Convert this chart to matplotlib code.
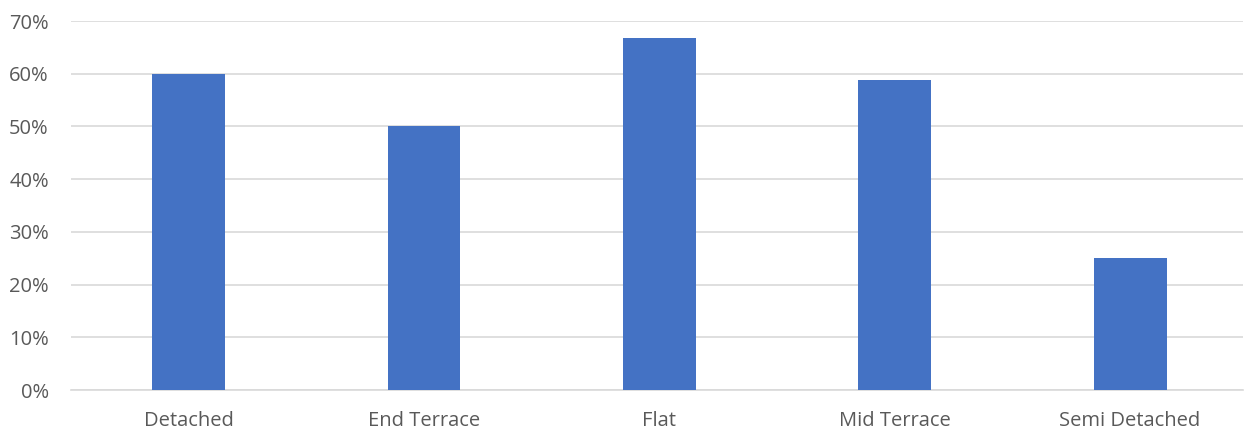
import matplotlib
matplotlib.use("Agg")
import matplotlib.pyplot as plt
from matplotlib.ticker import PercentFormatter

# share of each property type
CATEGORIES = ["Detached", "End Terrace", "Flat", "Mid Terrace", "Semi Detached"]
SHARE = [0.60, 0.50, 0.667, 0.588, 0.25]
Y_TICKS = [0.0, 0.1, 0.2, 0.3, 0.4, 0.5, 0.6, 0.7]

BAR_COLOR = "#4472C4"
TEXT_COLOR = "#595959"
GRID_COLOR = "#D9D9D9"

plt.rcParams["font.family"] = ["Open Sans", "DejaVu Sans"]

fig = plt.figure(figsize=(12.44, 4.32), dpi=100)
ax = fig.add_axes([71 / 1244, 1 - 390 / 432, 1172 / 1244, (390 - 21) / 432])

x = list(range(len(CATEGORIES)))
ax.bar(x, SHARE, width=0.31, color=BAR_COLOR, zorder=3)

ax.set_xlim(-0.5, 4.48)
ax.set_ylim(0, 0.7)
ax.set_yticks(Y_TICKS)
ax.yaxis.set_major_formatter(PercentFormatter(1.0, decimals=0))
ax.set_xticks(x)
ax.set_xticklabels(CATEGORIES)

ax.grid(axis="y", color=GRID_COLOR, linewidth=1.2, zorder=0)
for side in ["top", "right", "left"]:
    ax.spines[side].set_visible(False)
ax.spines["bottom"].set_color(GRID_COLOR)
ax.spines["bottom"].set_linewidth(1.2)

ax.tick_params(axis="both", length=0, labelsize=14.5, colors=TEXT_COLOR)
ax.tick_params(axis="x", pad=15)
ax.tick_params(axis="y", pad=16)

fig.savefig("out.png", dpi=100)
